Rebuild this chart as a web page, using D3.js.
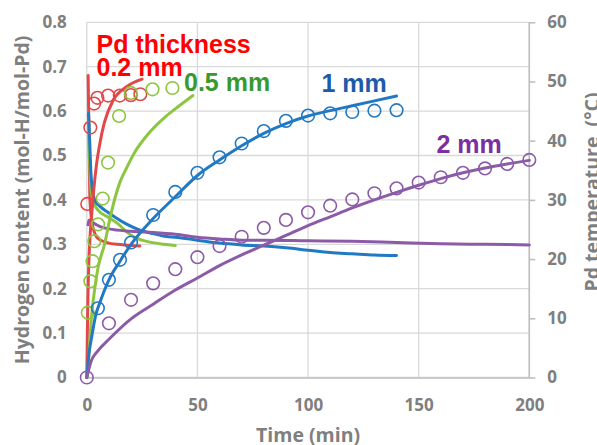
<!DOCTYPE html>
<html><head><meta charset="utf-8">
<script src="https://cdn.jsdelivr.net/npm/d3@7/dist/d3.min.js"></script>
<style>html,body{margin:0;padding:0;background:#fff;}svg{display:block;}</style>
</head><body>
<svg id="c" width="597" height="445"></svg>
<script>
// ---- axis ticks ----
const timeTicks = [0, 50, 100, 150, 200];
const hTicks = [0, 0.1, 0.2, 0.3, 0.4, 0.5, 0.6, 0.7, 0.8];
const hTickLabels = ["0", "0.1", "0.2", "0.3", "0.4", "0.5", "0.6", "0.7", "0.8"];
const tempTicks = [0, 10, 20, 30, 40, 50, 60];

// ---- 0.2 mm ----
const t02Pts = [0.2, 1.6, 3.3, 4.8, 9.6, 14.9, 19.9, 24.2];
const h02Pts = [0.391, 0.563, 0.617, 0.630, 0.635, 0.635, 0.636, 0.638];
const t02Fit = [0, 0.2, 0.5, 1, 1.5, 2.1, 3, 4.4, 6, 8, 12, 18, 25];
const h02Fit = [0, 0.08, 0.18, 0.27, 0.32, 0.36, 0.415, 0.48, 0.53, 0.575, 0.625, 0.655, 0.672];
const t02Temp = [0.6, 0.8, 1.0, 1.2, 1.5, 2.7, 5, 10, 17, 24];
const temp02 = [51, 46, 40, 34, 29.4, 25.5, 23.5, 22.7, 22.4, 22.2];

// ---- 0.5 mm ----
const t05Pts = [0.45, 1.6, 2.6, 3.4, 5.1, 7.2, 9.6, 14.6, 19.9, 29.7, 38.7];
const h05Pts = [0.146, 0.217, 0.262, 0.307, 0.345, 0.403, 0.484, 0.589, 0.641, 0.649, 0.652];
const t05Fit = [0, 0.5, 2, 4, 5, 8, 11, 15, 18, 22, 28, 35, 40, 48];
const h05Fit = [0, 0.02, 0.13, 0.215, 0.245, 0.30, 0.37, 0.44, 0.472, 0.51, 0.55, 0.585, 0.605, 0.635];
const t05Temp = [0.8, 1.2, 1.6, 2.7, 5, 10, 14, 18, 21, 27, 33, 40];
const temp05 = [44, 38, 33, 30, 28.3, 27.0, 26.0, 24.6, 23.8, 23.0, 22.6, 22.3];

// ---- 1 mm ----
const t1Pts = [5, 10, 15, 20, 30, 40, 50, 60, 70, 80, 90, 100, 110, 120, 130, 140];
const h1Pts = [0.156, 0.22, 0.265, 0.304, 0.366, 0.418, 0.461, 0.496, 0.527, 0.555, 0.578, 0.59, 0.595, 0.598, 0.601, 0.602];
const t1Fit = [0, 1, 2, 4, 6, 10, 15, 20, 30, 40, 50, 60, 70, 80, 90, 100, 110, 120, 130, 140];
const h1Fit = [0, 0.055, 0.085, 0.14, 0.17, 0.22, 0.262, 0.30, 0.358, 0.407, 0.455, 0.49, 0.522, 0.55, 0.572, 0.589, 0.601, 0.612, 0.623, 0.634];
const t1Temp = [0.8, 1.3, 1.8, 2.6, 3.6, 6, 10, 13.5, 18, 24, 30, 36, 40, 50, 60, 70, 80, 90, 100, 110, 120, 130, 140];
const temp1 = [44.6, 40, 35, 31.5, 30, 28.9, 27.8, 26.9, 25.9, 24.9, 24.3, 23.8, 23.7, 23.2, 22.7, 22.4, 22.2, 21.9, 21.5, 21.1, 20.9, 20.7, 20.6];

// ---- 2 mm ----
const t2Pts = [0, 10, 20, 30, 40, 50, 60, 70, 80, 90, 100, 110, 120, 130, 140, 150, 160, 170, 180, 190, 200];
const h2Pts = [0, 0.122, 0.175, 0.212, 0.244, 0.271, 0.296, 0.317, 0.337, 0.355, 0.372, 0.387, 0.401, 0.415, 0.426, 0.439, 0.451, 0.461, 0.471, 0.481, 0.49];
const t2Fit = [0, 2, 5, 10, 20, 30, 40, 50, 60, 70, 80, 90, 100, 110, 120, 130, 140, 150, 160, 170, 180, 190, 200];
const h2Fit = [0, 0.037, 0.06, 0.086, 0.132, 0.165, 0.197, 0.224, 0.252, 0.276, 0.298, 0.32, 0.342, 0.362, 0.382, 0.40, 0.417, 0.433, 0.448, 0.461, 0.472, 0.481, 0.489];
const t2Temp = [0.6, 1, 3, 6, 10, 20, 30, 40, 50, 60, 70, 80, 100, 120, 140, 160, 180, 200];
const temp2 = [25.8, 26.6, 26.1, 25.5, 25.1, 24.7, 24.5, 24.2, 23.7, 23.4, 23.2, 23.2, 23.1, 23.0, 22.8, 22.6, 22.5, 22.4];

const zip = (a, b) => a.map((v, i) => [v, b[i]]);

const svg = d3.select("#c");
const x = d3.scaleLinear().domain([0, 200]).range([86.8, 529.3]);
const y = d3.scaleLinear().domain([0, 0.8]).range([377.5, 22.3]);
const yT = d3.scaleLinear().domain([0, 60]).range([377.5, 22.3]);

const gray = "#7f7f7f";
const tickFont = "'Open Sans', sans-serif";

// gridlines
svg.append("g").selectAll("line").data(hTicks).join("line")
  .attr("x1", x(0)).attr("x2", x(200))
  .attr("y1", d => y(d)).attr("y2", d => y(d))
  .attr("stroke", "#d9d9d9").attr("stroke-width", 1.3);
svg.append("g").selectAll("line").data(timeTicks).join("line")
  .attr("x1", d => x(d)).attr("x2", d => x(d))
  .attr("y1", y(0)).attr("y2", y(0.8))
  .attr("stroke", "#d9d9d9").attr("stroke-width", 1.3);

// bottom axis
const xAxis = d3.axisBottom(x).tickValues(timeTicks).tickSize(0).tickPadding(21).tickFormat(d3.format("d"));
const gx = svg.append("g").attr("transform", `translate(0,${y(0)})`).call(xAxis);
gx.select(".domain").attr("stroke", "#bfbfbf").attr("stroke-width", 1.6);
gx.selectAll("text").attr("fill", gray).attr("font-family", tickFont).attr("font-weight", "bold").attr("font-size", 17);

// left axis
const yAxis = d3.axisLeft(y).tickValues(hTicks).tickSize(0).tickPadding(20).tickFormat((d, i) => hTickLabels[i]);
const gy = svg.append("g").attr("transform", `translate(${x(0)},0)`).call(yAxis);
gy.select(".domain").remove();
gy.selectAll("text").attr("fill", gray).attr("font-family", tickFont).attr("font-weight", "bold").attr("font-size", 17);

// right axis
const yAxisR = d3.axisRight(yT).tickValues(tempTicks).tickSize(6).tickPadding(12).tickFormat(d3.format("d"));
const gr = svg.append("g").attr("transform", `translate(${x(200)},0)`).call(yAxisR);
gr.select(".domain").attr("stroke", "#bfbfbf").attr("stroke-width", 1.6).attr("d", `M0,${yT(60)}V${yT(0)}`);
gr.selectAll(".tick line").attr("stroke", "#bfbfbf").attr("stroke-width", 1.6);
gr.selectAll("text").attr("fill", gray).attr("font-family", tickFont).attr("font-weight", "bold").attr("font-size", 17);

// axis titles
svg.append("text").attr("x", (x(0) + x(200)) / 2).attr("y", 442).attr("text-anchor", "middle")
  .attr("fill", gray).attr("font-family", tickFont).attr("font-weight", "bold").attr("font-size", 19.5)
  .text("Time (min)");
svg.append("text").attr("transform", `translate(28.5,${(y(0) + y(0.8)) / 2}) rotate(-90)`).attr("text-anchor", "middle")
  .attr("fill", gray).attr("font-family", tickFont).attr("font-weight", "bold").attr("font-size", 19.5)
  .text("Hydrogen content (mol-H/mol-Pd)");
svg.append("text").attr("transform", `translate(599,192) rotate(-90)`).attr("text-anchor", "middle")
  .attr("fill", gray).attr("font-family", tickFont).attr("font-weight", "bold").attr("font-size", 19.5)
  .style("white-space", "pre")
  .text("Pd temperature  (\u00B0C)");

// series
const series = [
  { col: "#e3474a", pts: zip(t02Pts, h02Pts), fit: zip(t02Fit, h02Fit), temp: zip(t02Temp, temp02) },
  { col: "#8cc63e", pts: zip(t05Pts, h05Pts), fit: zip(t05Fit, h05Fit), temp: zip(t05Temp, temp05) },
  { col: "#2279c3", pts: zip(t1Pts, h1Pts), fit: zip(t1Fit, h1Fit), temp: zip(t1Temp, temp1) },
  { col: "#8c5ba8", pts: zip(t2Pts, h2Pts), fit: zip(t2Fit, h2Fit), temp: zip(t2Temp, temp2) }
];

const lineH = d3.line().x(d => x(d[0])).y(d => y(d[1])).curve(d3.curveMonotoneX);
const lineT = d3.line().x(d => x(d[0])).y(d => yT(d[1])).curve(d3.curveMonotoneX);

series.forEach(s => {
  svg.append("path").attr("d", lineT(s.temp)).attr("fill", "none")
    .attr("stroke", s.col).attr("stroke-width", 3).attr("stroke-linejoin", "round").attr("stroke-linecap", "round");
});
series.forEach(s => {
  svg.append("path").attr("d", lineH(s.fit)).attr("fill", "none")
    .attr("stroke", s.col).attr("stroke-width", 3).attr("stroke-linejoin", "round").attr("stroke-linecap", "round");
});
series.forEach(s => {
  svg.append("g").selectAll("circle").data(s.pts).join("circle")
    .attr("cx", d => x(d[0])).attr("cy", d => y(d[1])).attr("r", 6.3)
    .attr("fill", "none").attr("stroke", s.col).attr("stroke-width", 1.6);
});

// labels
const labFont = "'Liberation Sans', Arial, sans-serif";
const labels = [
  { t: "Pd thickness", x: 96.5, y: 53, c: "#ff0000" },
  { t: "0.2 mm", x: 96.5, y: 76, c: "#ff0000" },
  { t: "0.5 mm", x: 184, y: 91, c: "#389a2e" },
  { t: "1 mm", x: 321.5, y: 92, c: "#1c5ba8" },
  { t: "2 mm", x: 436.5, y: 153, c: "#7b2fa0" }
];
svg.append("g").selectAll("text").data(labels).join("text")
  .attr("x", d => d.x).attr("y", d => d.y).attr("fill", d => d.c)
  .attr("font-family", labFont).attr("font-weight", "bold").attr("font-size", 25)
  .text(d => d.t);
</script>
</body></html>
